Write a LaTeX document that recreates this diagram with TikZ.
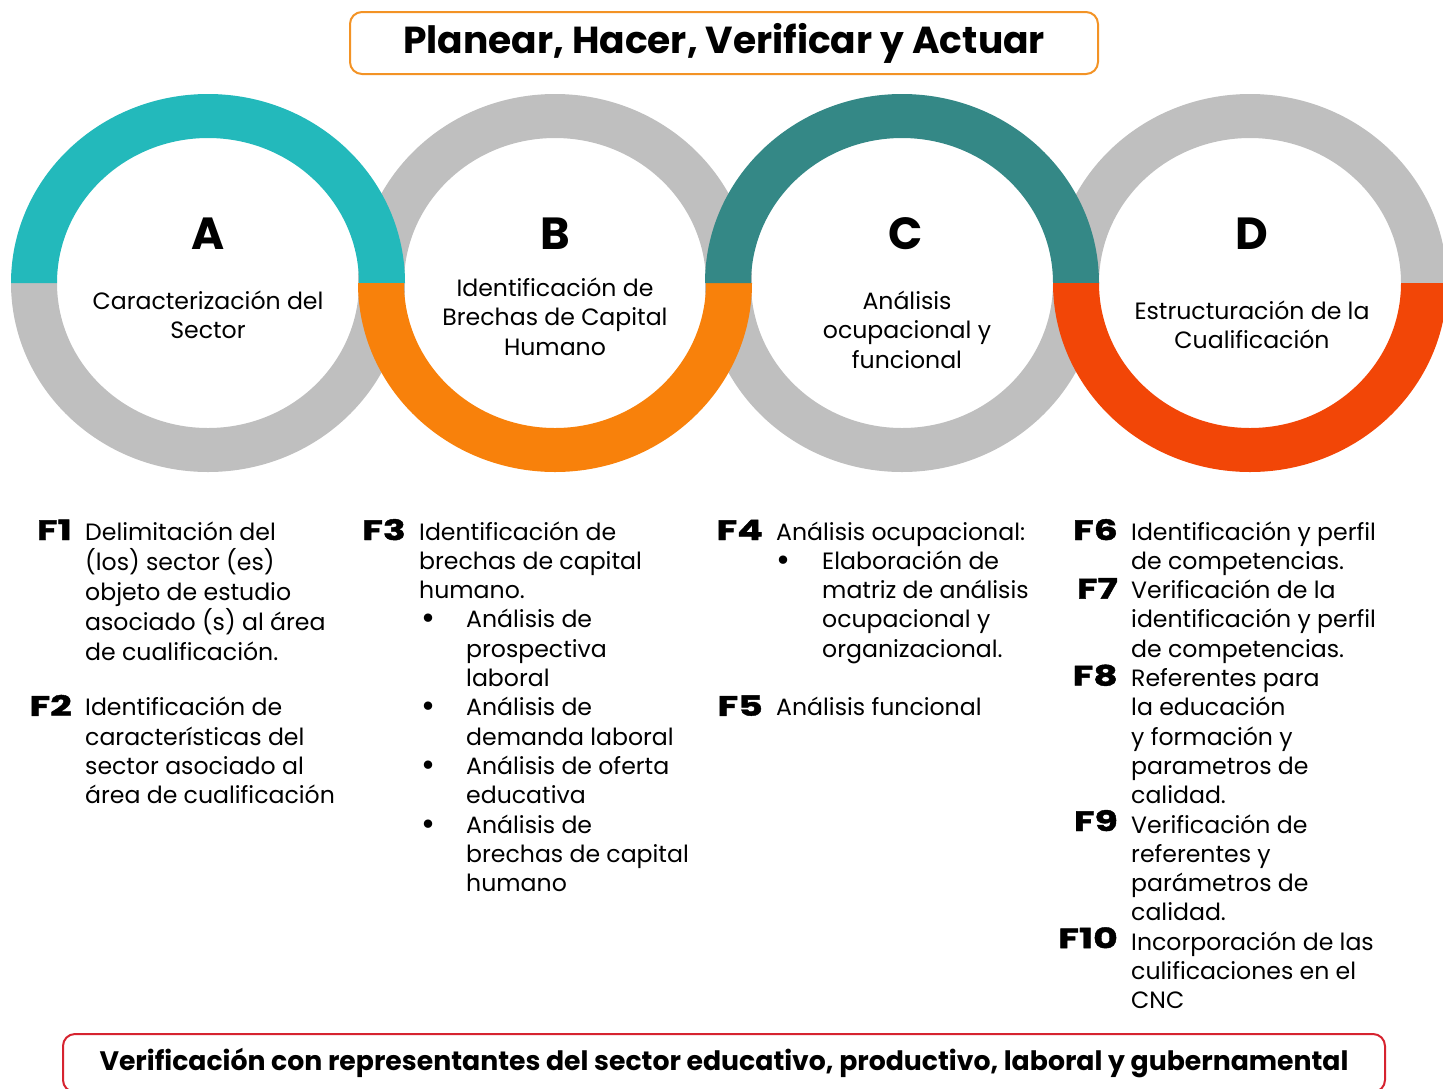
\documentclass[tikz,border=0pt]{standalone}
\usepackage{fontspec}
\setmainfont{Poppins}
\newfontfamily\heavy{Poppins}[BoldFeatures={FakeBold=1.5,FakeStretch=1.35}]
\definecolor{ringgray}{HTML}{BFBFBF}
\definecolor{ringteal}{HTML}{23B9BB}
\definecolor{ringorange}{HTML}{F8810B}
\definecolor{ringdark}{HTML}{348886}
\definecolor{ringred}{HTML}{F24607}
\definecolor{titleline}{HTML}{F39325}
\definecolor{bottomline}{HTML}{D6232F}
\newcommand\bodysize{\fontsize{23.6}{29.3}\selectfont}
\newcommand\ml[1]{\begin{tabular}[t]{@{}l@{}}#1\end{tabular}}
\newcommand\mc[1]{\begin{tabular}{@{}c@{}}#1\end{tabular}}
\newcommand\bul{\raisebox{-2pt}{\fontsize{34}{29}\selectfont •}}
\newcommand\bl[1]{\begin{tabular}[t]{@{}p{45pt}@{}l@{}}#1\end{tabular}}
\newcommand\blc[1]{\begin{tabular}[t]{@{}p{46pt}@{}l@{}}#1\end{tabular}}
\newcommand\tophalf[3]{\fill[#3] (#1-197,#2) arc[start angle=180,end angle=360,x radius=197,y radius=189] -- (#1+151,#2) arc[start angle=0,end angle=-180,x radius=151,y radius=145] -- cycle;}
\newcommand\bothalf[3]{\fill[#3] (#1-197,#2) arc[start angle=180,end angle=0,x radius=197,y radius=189] -- (#1+151,#2) arc[start angle=0,end angle=180,x radius=151,y radius=145] -- cycle;}
\begin{document}
\begin{tikzpicture}[x=1pt,y=-1pt,
  body/.style={inner sep=0pt, anchor=base west, font=\bodysize},
  flabel/.style={inner sep=0pt, anchor=base east, font=\fontsize{28}{29}\heavy\bfseries},
  letter/.style={inner sep=0pt, font=\fontsize{45}{50}\selectfont\bfseries},
  ringtext/.style={inner sep=0pt, font=\bodysize}]
\useasboundingbox (0,0) rectangle (1443,1088);
\clip (0,0) rectangle (1443,1088);
% gray halves
\bothalf{208}{283}{ringgray}
\tophalf{555}{283}{ringgray}
\bothalf{902}{283}{ringgray}
\tophalf{1250}{283}{ringgray}
% coloured halves
\tophalf{208}{283}{ringteal}
\bothalf{555}{283}{ringorange}
\tophalf{902}{283}{ringdark}
\bothalf{1250}{283}{ringred}
% title
\node[draw=titleline, line width=2pt, rounded corners=12pt, minimum width=748pt, minimum height=62pt, inner sep=0pt, font=\fontsize{37.6}{42}\selectfont\bfseries] (title) at (724,43) {Planear, Hacer, Verificar y Actuar};
\node[draw=bottomline, line width=2pt, rounded corners=12pt, minimum width=1322pt, minimum height=58pt, inner sep=0pt, font=\fontsize{26.7}{30}\selectfont\bfseries] (bottom) at (724,1063) {Verificación con representantes del sector educativo, productivo, laboral y gubernamental};
% ring letters and texts
\node[letter] (la) at (208,234) {A};
\node[letter] (lb) at (555,234) {B};
\node[letter] (lc) at (906,234) {C};
\node[letter] (ld) at (1252,234) {D};
\node[ringtext] (ta) at (208,318) {\mc{Caracterización del\\Sector}};
\node[ringtext] (tb) at (555,320) {\mc{Identificación de\\Brechas de Capital\\Humano}};
\node[ringtext] (tc) at (907,333) {\mc{Análisis\\ocupacional y\\funcional}};
\node[ringtext] (td) at (1252,328) {\mc{Estructuración de la\\Cualificación}};
% column 1
\node[flabel] (f1) at (72,540) {F1};
\node[body] (f1t) at (85,540) {\ml{Delimitación del\\(los) sector (es)\\objeto de estudio\\asociado (s) al área\\de cualificación.}};
\node[flabel] (f2) at (72,715.8) {F2};
\node[body] (f2t) at (85,715.8) {\ml{Identificación de\\características del\\sector asociado al\\área de cualificación}};
% column 2
\node[flabel] (f3) at (406,540) {F3};
\node[body] (f3t) at (419,540) {\ml{Identificación de\\brechas de capital\\humano.}};
\node[body] (f3b) at (421,627.9) {\bl{\bul&Análisis de\\&prospectiva\\&laboral\\\bul&Análisis de\\&demanda laboral\\\bul&Análisis de oferta\\&educativa\\\bul&Análisis de\\&brechas de capital\\&humano}};
% column 3
\node[flabel] (f4) at (763,540) {F4};
\node[body] (f4t) at (776,540) {Análisis ocupacional:};
\node[body] (f4b) at (776,569.3) {\blc{\bul&Elaboración de\\&matriz de análisis\\&ocupacional y\\&organizacional.}};
\node[flabel] (f5) at (763,715.8) {F5};
\node[body] (f5t) at (776,715.8) {Análisis funcional};
% column 4
\node[body] (f6t) at (1131,540) {\ml{Identificación y perfil\\de competencias.\\Verificación de la\\identificación y perfil\\de competencias.\\Referentes para\\la educación\\y formación y\\parametros de\\calidad.\\Verificación de\\referentes y\\parámetros de\\calidad.\\Incorporación de las\\culificaciones en el\\CNC}};
\node[flabel] (f6) at (1118,540) {F6};
\node[flabel] (f7) at (1118,598.6) {F7};
\node[flabel] (f8) at (1118,685.5) {F8};
\node[flabel] (f9) at (1118,831) {F9};
\node[flabel] (f10) at (1118,948.2) {F10};
\end{tikzpicture}
\end{document}
